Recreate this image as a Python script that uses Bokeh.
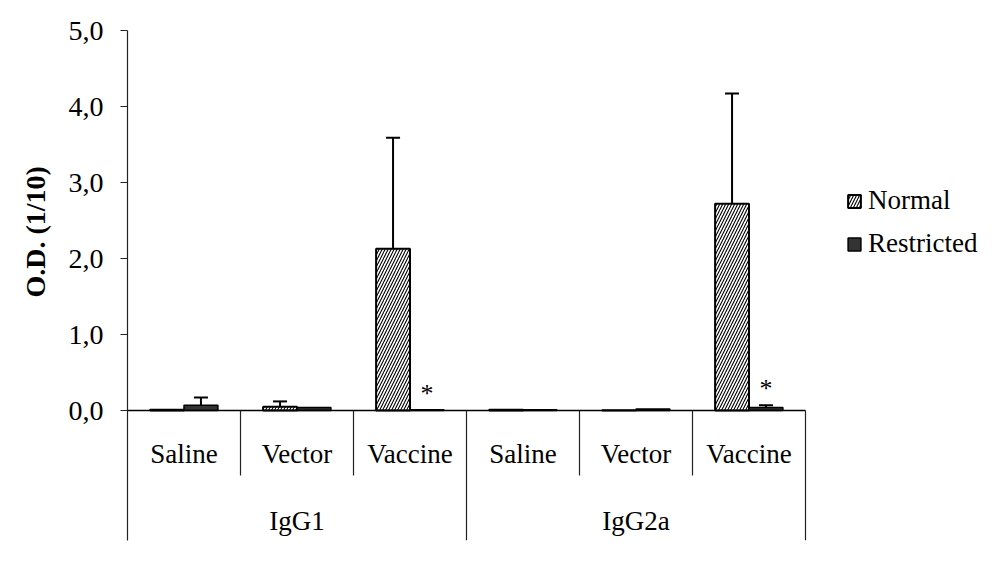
from bokeh.plotting import figure
from bokeh.models import (Range1d, FixedTicker, ColumnDataSource, Whisker, Legend,
                          LegendItem, TeeHead, Title)
from bokeh.core.properties import value
from bokeh.embed import file_html
from bokeh.resources import INLINE
import numpy as np

# ---- data ----
groups = ["IgG1", "IgG2a"]
treatments = ["Saline", "Vector", "Vaccine"]
normal = [0.01, 0.05, 2.13, 0.01, 0.005, 2.72]
normal_err = [0.0, 0.07, 1.46, 0.0, 0.0, 1.45]
restricted = [0.07, 0.04, 0.01, 0.01, 0.02, 0.04]
restricted_err = [0.10, 0.0, 0.0, 0.0, 0.0, 0.03]
significant = [False, False, True, False, False, True]
y_ticks = [0, 1, 2, 3, 4, 5]
y_tick_labels = ["0,0", "1,0", "2,0", "3,0", "4,0", "5,0"]
series_names = ["Normal", "Restricted"]
y_label = "O.D. (1/10)"

FONT = "Liberation Serif"
n_cat = len(groups) * len(treatments)
idx = np.arange(n_cat)
bar_w = 0.3
y_min = -1.71

# layout: the 6 categories occupy 678 px of a 855 px wide frame (legend sits in the rest)
W, LEFT, RIGHT = 987, 127, 5
frame_w = W - LEFT - RIGHT
x_end = n_cat * frame_w / 678.0

p = figure(width=W, height=564, output_backend="svg", toolbar_location=None,
           x_range=Range1d(0, x_end), y_range=Range1d(y_min, 5.0),
           min_border_left=LEFT, min_border_right=RIGHT, min_border_top=30,
           min_border_bottom=24)
p.outline_line_color = None
p.grid.visible = False
p.xaxis.visible = False
p.background_fill_color = "white"

ya = p.yaxis[0]
ya.ticker = FixedTicker(ticks=y_ticks)
ya.major_label_overrides = {t: l for t, l in zip(y_ticks, y_tick_labels)}
ya.major_label_text_font = FONT
ya.major_label_text_font_size = "28px"
ya.major_label_text_color = "black"
ya.major_tick_out = 7
ya.major_tick_in = 0
ya.minor_tick_out = 0
ya.minor_tick_in = 0
ya.axis_line_color = "#222222"
ya.axis_line_width = 1.2
ya.major_tick_line_color = "#222222"
ya.major_tick_line_width = 1.2
ya.major_label_standoff = 17

# y axis title, centred on the 0-5 part of the axis rather than on the whole frame
ytitle = Title(text=y_label, align="left", offset=243, standoff=30,
               text_font=FONT, text_font_style="bold", text_font_size="28px",
               text_color="black")
p.add_layout(ytitle, "left")

# bars
src = ColumnDataSource(dict(
    xn=idx + 0.5 - bar_w / 2, xr=idx + 0.5 + bar_w / 2,
    n=normal, r=restricted,
))
rn = p.vbar(x="xn", top="n", bottom=0, width=bar_w, source=src,
            fill_color="white", line_color="black", line_width=2,
            hatch_pattern="/", hatch_color="black", hatch_scale=6, hatch_weight=1.1)
rr = p.vbar(x="xr", top="r", bottom=0, width=bar_w, source=src,
            fill_color="#333333", line_color="black", line_width=1.5)

# error bars (upper only)
def add_err(xs, vals, errs):
    xs = np.asarray(xs); vals = np.asarray(vals); errs = np.asarray(errs)
    m = errs > 0
    es = ColumnDataSource(dict(x=xs[m], lo=vals[m], hi=vals[m] + errs[m]))
    w = Whisker(base="x", lower="lo", upper="hi", source=es, dimension="height",
                lower_head=None,
                upper_head=TeeHead(size=14, line_width=2, line_color="black"),
                line_width=2, line_color="black")
    p.add_layout(w)

add_err(idx + 0.5 - bar_w / 2, normal, normal_err)
add_err(idx + 0.5 + bar_w / 2, restricted, restricted_err)

# significance stars
sig = np.array(significant)
star_x = (idx + 0.5 + bar_w / 2)[sig]
star_y = (np.array(restricted) + np.array(restricted_err) + 0.22)[sig]
p.text(x=star_x, y=star_y, text=["*"] * len(star_x), text_align="center",
       text_baseline="middle", text_font=value(FONT), text_font_size="26px",
       text_color="black")

# x axis line at zero
p.segment(x0=[0], y0=[0], x1=[n_cat], y1=[0], line_color="black", line_width=1.5)

# category table below zero
sub_x, grp_x = [], []
for gi in range(len(groups)):
    for ti in range(1, len(treatments)):
        sub_x.append(gi * len(treatments) + ti)
    grp_x.append((gi + 1) * len(treatments))
p.segment(x0=sub_x, y0=[0] * len(sub_x), x1=sub_x, y1=[-0.855] * len(sub_x),
          line_color="#222222", line_width=1.2)
p.segment(x0=grp_x, y0=[0] * len(grp_x), x1=grp_x, y1=[y_min] * len(grp_x),
          line_color="#222222", line_width=1.2)

cat_labels = [t for g in groups for t in treatments]
p.text(x=idx + 0.5, y=[-0.57] * n_cat, text=cat_labels, text_align="center",
       text_baseline="middle", text_font=value(FONT), text_font_size="27px",
       text_color="black")
p.text(x=[gi * len(treatments) + len(treatments) / 2 for gi in range(len(groups))],
       y=[-1.45] * len(groups), text=groups, text_align="center",
       text_baseline="middle", text_font=value(FONT), text_font_size="27px",
       text_color="black")

# legend
legend = Legend(items=[LegendItem(label=series_names[0], renderers=[rn]),
                       LegendItem(label=series_names[1], renderers=[rr])],
                location=(719, 281), orientation="vertical",
                glyph_width=16, glyph_height=16, label_height=25, spacing=12,
                label_standoff=6, padding=0, margin=0,
                border_line_color=None, background_fill_alpha=0,
                label_text_font=FONT, label_text_font_size="27px",
                label_text_color="black")
p.add_layout(legend, "center")

open("out.html", "w").write(file_html(p, INLINE))
